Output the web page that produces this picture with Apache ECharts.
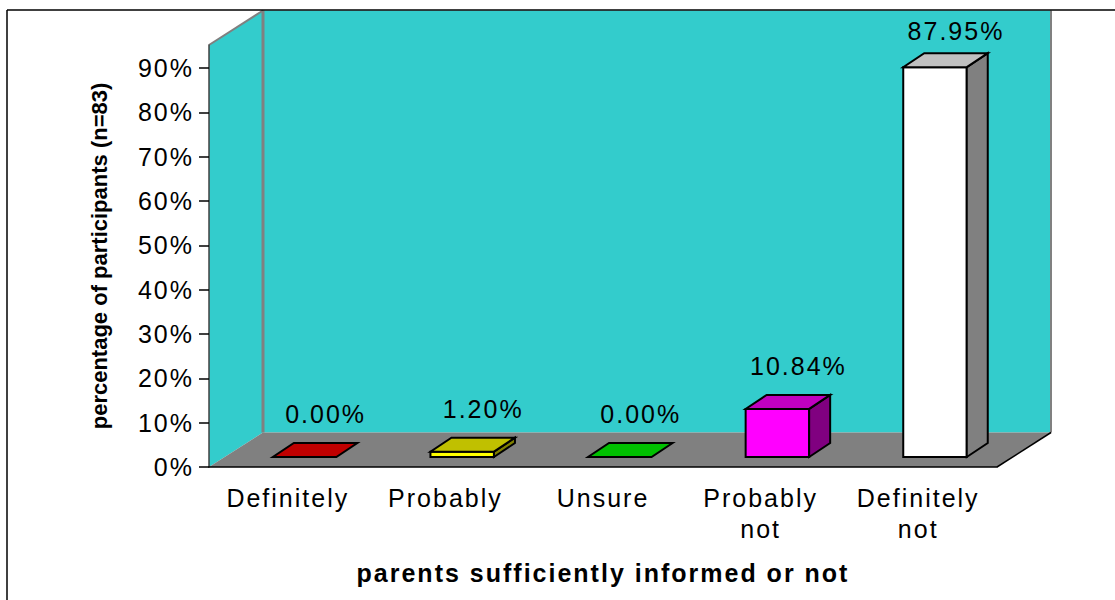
<!DOCTYPE html>
<html>
<head>
<meta charset="utf-8">
<title>Parents sufficiently informed</title>
<style>
  html, body { margin: 0; padding: 0; background: #fff; }
  #chart { width: 1115px; height: 600px; }
  /* spaced-out lettering for the chart text */
  #chart svg text { letter-spacing: 2px; }
</style>
<script src="https://cdn.jsdelivr.net/npm/echarts@6/dist/echarts.min.js"></script>
</head>
<body>
<div id="chart"></div>
<script>
const categories = ['Definitely', 'Probably', 'Unsure', 'Probably\nnot', 'Definitely\nnot'];
const percentages = [0, 1.2, 0, 10.84, 87.95];
const valueLabels = ['0.00%', '1.20%', '0.00%', '10.84%', '87.95%'];
const percentTicks = [0, 10, 20, 30, 40, 50, 60, 70, 80, 90];
const valueAxisName = 'percentage of participants (n=83)';
const categoryAxisName = 'parents sufficiently informed or not';

const frontColors = ['#ff0000', '#ffff00', '#00ff00', '#ff00ff', '#ffffff'];
const topColors = ['#c00000', '#c0c000', '#00c000', '#c000c0', '#c0c0c0'];
const sideColors = ['#800000', '#808000', '#008000', '#800080', '#808080'];

const FONT = '"Liberation Sans", Arial, sans-serif';
const WALL_DX = 54, WALL_DY = -34.5;    // depth of the plot box
const BAR_DX = 21, BAR_DY = -14;        // depth of each bar
const BAR_SHIFT_X = 16.8, BAR_LIFT = 10; // bars stand mid-way back on the floor

const poly = (points, fill, stroke, lineWidth) => ({
  type: 'polygon',
  shape: { points },
  style: { fill, stroke: stroke || 'none', lineWidth: lineWidth || 0, lineJoin: 'miter' }
});
const seg = (x1, y1, x2, y2, stroke, lineWidth) => ({
  type: 'line',
  shape: { x1, y1, x2, y2 },
  style: { stroke, lineWidth, fill: 'none' }
});

function renderBox(params) {
  const { x, y, width: w, height: h } = params.coordSys;
  const b = y + h;
  return {
    type: 'group',
    children: [
      poly([[x + WALL_DX, y + WALL_DY], [x + w + WALL_DX, y + WALL_DY], [x + w + WALL_DX, b + WALL_DY], [x + WALL_DX, b + WALL_DY]], '#33cccc'),
      poly([[x, y], [x + WALL_DX, y + WALL_DY], [x + WALL_DX, b + WALL_DY], [x, b]], '#33cccc'),
      poly([[x, b], [x + w, b], [x + w + WALL_DX, b + WALL_DY], [x + WALL_DX, b + WALL_DY]], '#808080'),
      seg(x, y, x + WALL_DX, y + WALL_DY, '#808080', 2),
      seg(x + WALL_DX, y + WALL_DY, x + WALL_DX, b + WALL_DY, '#808080', 3),
      seg(x + w + WALL_DX, y + WALL_DY, x + w + WALL_DX, b + WALL_DY, '#808080', 2),
      seg(x + w, b, x + w + WALL_DX, b + WALL_DY, '#000000', 1.5)
    ]
  };
}

function renderBar(params, api) {
  const i = api.value(0);
  const value = api.value(1);
  const base = api.coord([i, 0]);
  const top = api.coord([i, value]);
  const barW = api.size([1, 0])[0] * 0.403;
  const l = base[0] + BAR_SHIFT_X - barW / 2;
  const r = l + barW;
  const by = base[1] - BAR_LIFT;
  const ty = top[1] - BAR_LIFT;
  const k = '#000000';
  const children = [];
  if (value > 0) {
    children.push(poly([[l, by], [r, by], [r, ty], [l, ty]], frontColors[i], k, 2));
    children.push(poly([[r, by], [r + BAR_DX, by + BAR_DY], [r + BAR_DX, ty + BAR_DY], [r, ty]], sideColors[i], k, 2));
  }
  children.push(poly([[l, ty], [r, ty], [r + BAR_DX, ty + BAR_DY], [l + BAR_DX, ty + BAR_DY]], topColors[i], k, 2));
  children.push({
    type: 'text',
    style: {
      text: valueLabels[i],
      x: (l + r) / 2 + 21,
      y: Math.max(ty + BAR_DY - 29, 31),
      align: 'center',
      verticalAlign: 'middle',
      font: '25px ' + FONT,
      fill: '#000000'
    }
  });
  return { type: 'group', children };
}

const chart = echarts.init(document.getElementById('chart'), null, { renderer: 'svg' });
chart.setOption({
  animation: false,
  backgroundColor: '#ffffff',
  textStyle: { fontFamily: FONT },
  grid: { left: 209, right: 118, top: 45, bottom: 133 },
  xAxis: {
    type: 'category',
    data: categories,
    z: 5,
    name: categoryAxisName,
    nameLocation: 'middle',
    nameGap: 93,
    nameTextStyle: { fontFamily: FONT, fontSize: 25, fontWeight: 'bold', color: '#000' },
    axisLine: { lineStyle: { color: '#000', width: 1.5 } },
    axisTick: { length: 10, alignWithLabel: false, lineStyle: { color: '#000', width: 1.5 } },
    axisLabel: { color: '#000', fontFamily: FONT, fontSize: 25, lineHeight: 31, margin: 15, interval: 0 },
    splitLine: { show: false }
  },
  yAxis: {
    type: 'value',
    min: 0,
    max: 95.2,
    interval: 10,
    z: 5,
    name: valueAxisName,
    nameLocation: 'middle',
    nameGap: 99,
    nameTextStyle: { fontFamily: FONT, fontSize: 22, fontWeight: 'bold', color: '#000' },
    axisLine: { show: true, lineStyle: { color: '#404040', width: 1.5 } },
    axisTick: { show: true, length: 10, customValues: percentTicks, lineStyle: { color: '#000', width: 1.5 } },
    axisLabel: { color: '#000', fontFamily: FONT, fontSize: 25, margin: 15, formatter: '{value}%', customValues: percentTicks },
    splitLine: { show: false }
  },
  series: [
    { type: 'custom', name: 'box', coordinateSystem: 'cartesian2d', z: 1, silent: true, clip: false, data: [[0, 0]], renderItem: renderBox },
    { type: 'custom', name: 'participants', coordinateSystem: 'cartesian2d', z: 2, silent: true, clip: false,
      data: percentages.map((v, i) => [i, v]), encode: { x: 0, y: 1 }, renderItem: renderBar }
  ],
  graphic: [
    { type: 'line', z: 10, shape: { x1: 7, y1: 10, x2: 1115, y2: 10 }, style: { stroke: '#000', lineWidth: 1.5 } },
    { type: 'line', z: 10, shape: { x1: 7, y1: 10, x2: 7, y2: 600 }, style: { stroke: '#000', lineWidth: 1.5 } }
  ]
});

// The rotated axis name is set tight, unlike the rest of the text
document.querySelectorAll('#chart svg text').forEach((t) => {
  if (t.textContent === valueAxisName) t.style.letterSpacing = '0';
});
</script>
</body>
</html>
